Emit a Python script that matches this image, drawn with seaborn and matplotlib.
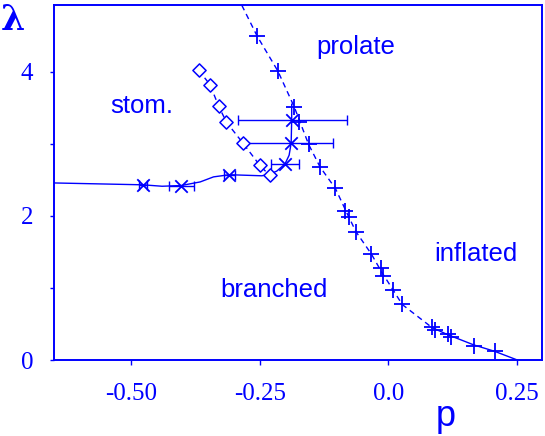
import matplotlib
matplotlib.use("Agg")
import matplotlib.pyplot as plt
import seaborn as sns
import numpy as np

# ---- data ----
# '+' markers (prolate / branched-inflated boundary)
plus_p = [-0.255, -0.215, -0.183, -0.174, -0.155, -0.133, -0.103, -0.084, -0.076,
          -0.063, -0.033, -0.015, -0.011, 0.009, 0.027, 0.085, 0.090, 0.116, 0.122,
          0.166, 0.207]
plus_lam = [4.49, 4.01, 3.51, 3.30, 2.99, 2.68, 2.38, 2.07, 1.98,
            1.78, 1.47, 1.27, 1.16, 0.975, 0.77, 0.46, 0.41, 0.36, 0.32,
            0.20, 0.12]

# dashed boundary curve path
dash_p = [-0.285, -0.255, -0.215, -0.183, -0.155, -0.133, -0.103, -0.080,
          -0.063, -0.033, -0.013, 0.009, 0.027, 0.085]
dash_lam = [4.92, 4.49, 4.01, 3.51, 2.99, 2.68, 2.38, 2.03,
            1.78, 1.47, 1.22, 0.975, 0.77, 0.45]
# solid end of the boundary
tail_p = [0.085, 0.116, 0.166, 0.207, 0.251]
tail_lam = [0.45, 0.35, 0.21, 0.12, 0.0]

# diamonds (stomatocyte boundary)
dia_p = [-0.369, -0.347, -0.330, -0.315, -0.283, -0.250, -0.231]
dia_lam = [4.02, 3.82, 3.52, 3.30, 3.01, 2.70, 2.56]

# X markers with horizontal error bars
x_p = [-0.478, -0.403, -0.309, -0.201, -0.189, -0.188]
x_lam = [2.43, 2.42, 2.57, 2.72, 3.01, 3.33]
x_err_lo = [0.008, 0.024, 0.011, 0.028, 0.090, 0.105]
x_err_hi = [0.008, 0.024, 0.011, 0.028, 0.081, 0.107]

# solid curve through the X markers
curve_p = [-0.652, -0.478, -0.440, -0.403, -0.366, -0.340, -0.309, -0.246,
           -0.230, -0.217, -0.201, -0.193, -0.189, -0.188, -0.188]
curve_lam = [2.456, 2.43, 2.41, 2.42, 2.47, 2.54, 2.57, 2.555,
             2.58, 2.62, 2.72, 2.84, 3.01, 3.33, 3.55]

x_ticks = [-0.50, -0.25, 0.0, 0.25]
x_ticklabels = ["-0.50", "-0.25", "0.0", "0.25"]
y_ticks = [0, 2, 4]
y_ticklabels = ["0", "2", "4"]

labels = ["prolate", "stom.", "inflated", "branched"]
label_p = [-0.063, -0.479, 0.170, -0.2216]
label_lam = [4.24, 3.42, 1.38, 0.872]

BLUE = "#0000ff"

sns.set_theme(style="white")
plt.rcParams["font.family"] = ["Liberation Sans", "DejaVu Sans"]

fig = plt.figure(figsize=(5.45, 4.36), dpi=100)
ax = fig.add_axes([54 / 545, 1 - 360 / 436, (541.7 - 54) / 545, (360 - 5) / 436])
ax.set_facecolor("white")

sns.lineplot(x=dash_p, y=dash_lam, sort=False, estimator=None, ax=ax,
             color=BLUE, lw=1.0, linestyle=(0, (4.0, 3.0)))
sns.lineplot(x=tail_p, y=tail_lam, sort=False, estimator=None, ax=ax,
             color=BLUE, lw=1.0)
sns.lineplot(x=dia_p, y=dia_lam, sort=False, estimator=None, ax=ax,
             color=BLUE, lw=1.0, linestyle=(0, (4.0, 3.0)))
sns.lineplot(x=curve_p, y=curve_lam, sort=False, estimator=None, ax=ax,
             color=BLUE, lw=1.0)

ax.errorbar(x_p, x_lam, xerr=[x_err_lo, x_err_hi], fmt="none", ecolor=BLUE,
            elinewidth=1.0, capsize=3.4, capthick=1.0, zorder=3)

sns.scatterplot(x=plus_p, y=plus_lam, marker="+", s=120, color=BLUE,
                linewidth=1.3, ax=ax, zorder=4)
sns.scatterplot(x=x_p, y=x_lam, marker="x", s=80, color=BLUE,
                linewidth=1.3, ax=ax, zorder=4)
sns.scatterplot(x=dia_p, y=dia_lam, marker="D", s=45, facecolor="white",
                edgecolor=BLUE, linewidth=1.1, ax=ax, zorder=5)

for t, px, py in zip(labels, label_p, label_lam):
    ax.text(px, py, t, ha="center", va="baseline", color=BLUE, fontsize=18.5,
            family=["Liberation Sans", "DejaVu Sans"])

ax.set_xlim(-0.6504, 0.2984)
ax.set_ylim(0, 4.924)

ax.set_xticks(x_ticks)
ax.set_xticklabels(x_ticklabels, family=["Liberation Serif", "DejaVu Serif"],
                   fontsize=18, color=BLUE)
ax.set_yticks(y_ticks)
ax.set_yticklabels(y_ticklabels, family=["Liberation Serif", "DejaVu Serif"],
                   fontsize=18, color=BLUE)
ax.set_yticks([1, 3], minor=True)
ax.tick_params(axis="x", which="both", direction="out", length=3.6, width=1,
               color=BLUE, pad=13, bottom=True)
ax.tick_params(axis="y", which="both", direction="out", length=3, width=1,
               color=BLUE, pad=12, left=True)

for s in ax.spines.values():
    s.set_color(BLUE)
    s.set_linewidth(1.4)
    s.set_visible(True)

ax.set_xlabel("")
ax.set_ylabel("")
fig.text(446 / 545, 1 - 425.5 / 436, "p", ha="center", va="baseline",
         color=BLUE, fontsize=26, family=["Liberation Sans", "DejaVu Sans"])
fig.text(13 / 545, 1 - 30 / 436, "λ", ha="center", va="baseline",
         color=BLUE, fontsize=25, fontweight="bold",
         family=["DejaVu Serif", "DejaVu Sans"])

fig.savefig("out.png", dpi=100, facecolor="white")
